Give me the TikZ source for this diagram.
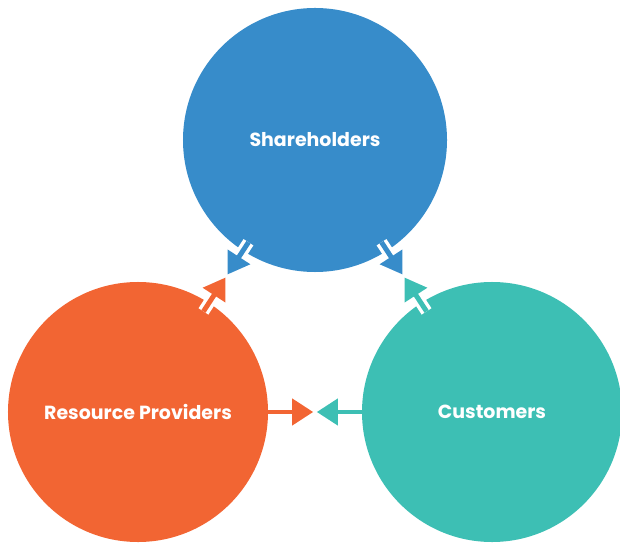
\documentclass[tikz,border=0pt]{standalone}
\usepackage{fontspec}
\setmainfont{Poppins}
\usetikzlibrary{positioning,arrows.meta,calc}
\definecolor{shFill}{HTML}{378CCA}
\definecolor{rpFill}{HTML}{F26533}
\definecolor{cuFill}{HTML}{3DBFB4}

\begin{document}
\begin{tikzpicture}[
  x=0.03cm, y=-0.03cm,
  font=\fontsize{16.2}{18}\selectfont\bfseries,
  party/.style ={circle, inner sep=0pt, text=white, align=center},
  halo/.style  ={white, line width=10pt},
  flow/.style  ={-{Triangle[length=18pt, width=22pt]}, line width=4.2pt},
]
\useasboundingbox (0,0) rectangle (620,543);
\clip (0,0) rectangle (620,543);

% ==================== Three parties ====================
\node[party, fill=shFill, minimum size=7.92cm] (sh) at (315,140) {Shareholders};
\node[party, fill=rpFill, minimum size=7.8cm]  (rp) at (138,412) {Resource Providers};
\node[party, fill=cuFill, minimum size=7.8cm]  (cu) at (492,412) {Customers};

% meeting points between the circles
\coordinate (m1) at ($(sh.center)!0.5!(rp.center)$);
\coordinate (m2) at ($(sh.center)!0.5!(cu.center)$);
\coordinate (m3) at ($(rp.center)!0.5!(cu.center)$);

% ==================== Arrows ====================
% shareholders <-> resource providers
\draw[halo] ($(sh.center)!3.66cm!(m1)$) -- ($(sh.center)!4.1cm!(m1)$);
\draw[flow, shFill] ($(sh.center)!3.66cm!(m1)$) -- ($(m1)!1.5pt!(sh.center)$);
\draw[halo] ($(rp.center)!3.6cm!(m1)$) -- ($(rp.center)!4.05cm!(m1)$);
\draw[flow, rpFill] ($(rp.center)!3.6cm!(m1)$) -- ($(m1)!1.5pt!(rp.center)$);

% shareholders <-> customers
\draw[halo] ($(sh.center)!3.66cm!(m2)$) -- ($(sh.center)!4.1cm!(m2)$);
\draw[flow, shFill] ($(sh.center)!3.66cm!(m2)$) -- ($(m2)!1.5pt!(sh.center)$);
\draw[halo] ($(cu.center)!3.6cm!(m2)$) -- ($(cu.center)!4.05cm!(m2)$);
\draw[flow, cuFill] ($(cu.center)!3.6cm!(m2)$) -- ($(m2)!1.5pt!(cu.center)$);

% resource providers <-> customers
\draw[flow, rpFill] (rp.east) -- ($(m3)!1.5pt!(rp.center)$);
\draw[flow, cuFill] (cu.west) -- ($(m3)!1.5pt!(cu.center)$);

\end{tikzpicture}
\end{document}
